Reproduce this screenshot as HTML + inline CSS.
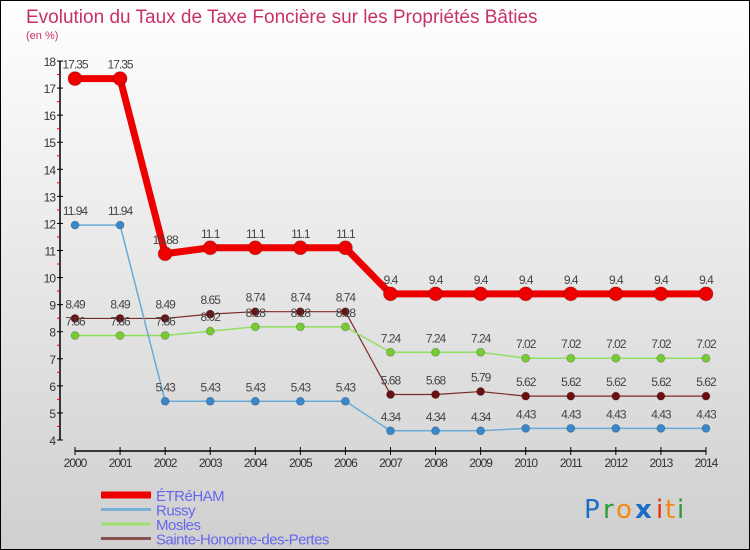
<!DOCTYPE html>
<html><head><meta charset="utf-8"><style>
body{margin:0;padding:0}
#wrap{position:relative;width:748px;height:548px;border:1px solid #000;background:linear-gradient(#ffffff,#cfcfcf);overflow:hidden;font-family:"Liberation Sans",sans-serif}
</style></head><body>
<div id="wrap">
<svg id="svg" width="748" height="548">
<text x="25" y="22" font-size="19" fill="#c8306a">Evolution du Taux de Taxe Foncière sur les Propriétés Bâties</text>
<text x="25" y="38" font-size="11" fill="#c8306a">(en %)</text>
<g id="axes"></g><g id="series"></g><g id="legend"></g>
<g font-size="26" font-family="'DejaVu Sans',sans-serif">
<text x="583" y="517" fill="#1a6fc4">P</text><text x="602" y="517" fill="#2a9a3a">r</text><text x="615" y="517" fill="#f08a10">o</text><text x="634" y="517" fill="#1a6fc4" font-weight="bold">x</text><text x="655" y="517" fill="#e53010">i</text><text x="664" y="517" fill="#f08a10">t</text><text x="676" y="517" fill="#2a9a3a">i</text>
</g>
</svg></div>
<script>
const years=[2000,2001,2002,2003,2004,2005,2006,2007,2008,2009,2010,2011,2012,2013,2014];
const etreham=[17.35,17.35,10.88,11.1,11.1,11.1,11.1,9.4,9.4,9.4,9.4,9.4,9.4,9.4,9.4];
const russy=[11.94,11.94,5.43,5.43,5.43,5.43,5.43,4.34,4.34,4.34,4.43,4.43,4.43,4.43,4.43];
const mosles=[7.86,7.86,7.86,8.02,8.18,8.18,8.18,7.24,7.24,7.24,7.02,7.02,7.02,7.02,7.02];
const sainte=[8.49,8.49,8.49,8.65,8.74,8.74,8.74,5.68,5.68,5.79,5.62,5.62,5.62,5.62,5.62];
const yTicks=[4,5,6,7,8,9,10,11,12,13,14,15,16,17,18];
const NS="http://www.w3.org/2000/svg";
const X=i=>74+i*45.07;
const Y=v=>439-(v-4)*27.07;
function mk(tag,attrs,parent){const e=document.createElementNS(NS,tag);for(const k in attrs)e.setAttribute(k,attrs[k]);parent.appendChild(e);return e;}
const axes=document.getElementById('axes');
const ya=mk('line',{x1:59,y1:Y(18),x2:59,y2:Y(4),stroke:'#000','stroke-width':1.5},axes);


yTicks.forEach(t=>{
  mk('line',{x1:56,x2:62,y1:Y(t),y2:Y(t),stroke:'#000'},axes);
  if(t<18)mk('line',{x1:56,x2:59,y1:Y(t+0.5),y2:Y(t+0.5),stroke:'#e00'},axes);
  const tx=mk('text',{x:54,y:Y(t)+5,'font-size':12,'text-anchor':'end',fill:'#333','letter-spacing':'-1'},axes);
  tx.textContent=t;
  
  
});
const xa=mk('line',{x1:X(0),x2:X(14),y1:450,y2:450,stroke:'#000','stroke-width':1.5},axes);


years.forEach((yr,i)=>{
  mk('line',{x1:X(i),x2:X(i),y1:446,y2:454,stroke:'#000'},axes);
  const tx=mk('text',{x:X(i),y:466,'font-size':12,'text-anchor':'middle',fill:'#333','letter-spacing':'-1'},axes);
  tx.textContent=yr;
  
  
});
const series=document.getElementById('series');
function draw(name,vals,color,lw,r,dot){
  const g=mk('g',{},series);
  
  
  mk('polyline',{points:vals.map((v,i)=>X(i)+','+Y(v)).join(' '),fill:'none',stroke:color,'stroke-width':lw},g);
  vals.forEach((v,i)=>{
    const c=mk('circle',{cx:X(i),cy:Y(v),r:r,fill:dot,stroke:'#0003'},g);
    
    
    const t=mk('text',{x:X(i),y:Y(v)-10,'font-size':12,'text-anchor':'middle',fill:'#444','letter-spacing':'-1'},g);
    t.textContent=v;
    
    
  });
}
draw('sainte',sainte,'#7a2a2a',1.2,4,'#6a1010');
draw('mosles',mosles,'#90e060',1.5,4,'#77cc33');
draw('russy',russy,'#6aaad8',1.5,4,'#3a88cc');
draw('etreham',etreham,'#ee0000',7,7,'#ee0000');
const legend=document.getElementById('legend');
const items=[['ÉTRéHAM','#ee0000',7],['Russy','#7ab0d8',3],['Mosles','#a0e070',3],['Sainte-Honorine-des-Pertes','#8a5050',3]];
items.forEach((it,k)=>{
  const y=494+k*14.5;
  const g=mk('g',{},legend);
  
  
  mk('line',{x1:100,x2:150,y1:y,y2:y,stroke:it[1],'stroke-width':it[2]},g);
  const t=mk('text',{x:155,y:y+6,'font-size':15,fill:'#6666ee','letter-spacing':'-0.5'},g);
  t.textContent=it[0];
});
</script>
</body></html>
